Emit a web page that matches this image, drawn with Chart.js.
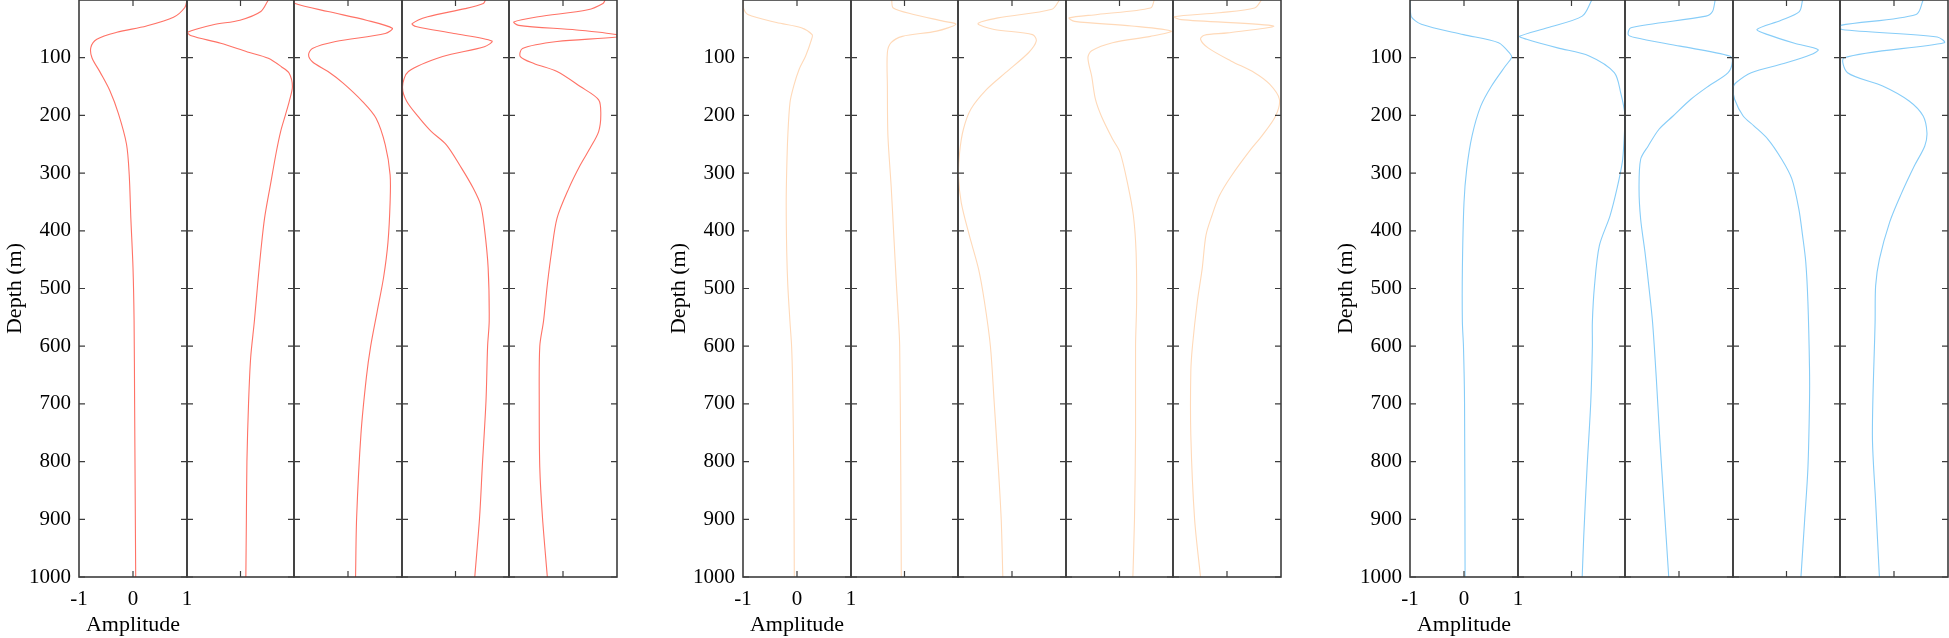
<!DOCTYPE html>
<html lang="en">
<head>
<meta charset="UTF-8">
<title>Mode amplitude profiles</title>
<script src="https://cdn.jsdelivr.net/npm/chart.js"></script>
<style>
  html, body { margin: 0; padding: 0; background: #fff; overflow: hidden; }
  #wrap { position: relative; width: 1949px; height: 638px; }
  #wrap canvas { position: absolute; }
</style>
</head>
<body>
<div id="wrap"></div>
<script>
// [depth (m), amplitude], one list per mode
const redMode1 = [[0,1.0],[13,0.96],[30,0.75],[45,0.25],[56,-0.30],[68,-0.67],[82,-0.78],[100,-0.76],[125,-0.61],[157,-0.43],[197,-0.27],[250,-0.12],[303,-0.07],[378,-0.04],[464,0.0],[556,0.02],[700,0.03],[850,0.04],[1000,0.05]];
const redMode2 = [[0,0.52],[20,0.38],[35,-0.01],[43,-0.51],[56,-0.99],[62,-0.92],[75,-0.37],[90,0.13],[101,0.52],[116,0.77],[127,0.91],[150,0.97],[176,0.91],[199,0.84],[228,0.75],[263,0.67],[320,0.56],[378,0.45],[435,0.38],[493,0.32],[556,0.26],[620,0.19],[700,0.15],[800,0.12],[900,0.11],[1000,0.10]];
const redMode3 = [[0,-1.0],[6,-0.98],[20,-0.37],[35,0.34],[49,0.82],[58,0.69],[72,-0.23],[84,-0.66],[95,-0.73],[107,-0.66],[124,-0.37],[144,-0.09],[176,0.27],[205,0.52],[251,0.69],[303,0.78],[350,0.78],[420,0.74],[480,0.66],[540,0.54],[600,0.42],[654,0.34],[752,0.24],[897,0.16],[1000,0.14]];
const redMode4 = [[0,0.56],[6,0.52],[15,0.18],[29,-0.52],[41,-0.81],[46,-0.74],[58,-0.03],[71,0.68],[81,0.54],[98,-0.24],[124,-0.88],[150,-0.99],[176,-0.91],[205,-0.67],[228,-0.45],[251,-0.17],[291,0.11],[326,0.33],[355,0.47],[395,0.54],[464,0.61],[556,0.63],[600,0.60],[695,0.57],[810,0.50],[897,0.45],[1000,0.36]];
const redMode5 = [[0,0.78],[6,0.74],[17,0.46],[29,-0.46],[38,-0.91],[44,-0.82],[52,0.25],[60,1.0],[64,1.0],[72,-0.11],[84,-0.75],[98,-0.79],[110,-0.54],[124,-0.11],[150,0.32],[173,0.66],[199,0.70],[228,0.66],[257,0.50],[286,0.32],[326,0.11],[378,-0.11],[435,-0.21],[493,-0.29],[556,-0.36],[600,-0.43],[695,-0.44],[810,-0.43],[897,-0.38],[1000,-0.29]];

const peachMode1 = [[0,-1.0],[14,-0.99],[25,-0.91],[39,-0.38],[48,0.08],[60,0.28],[68,0.27],[97,0.16],[120,0.04],[149,-0.06],[178,-0.13],[235,-0.17],[293,-0.19],[351,-0.20],[437,-0.19],[495,-0.17],[558,-0.13],[600,-0.10],[668,-0.08],[812,-0.06],[1000,-0.05]];
const peachMode2 = [[0,-0.24],[14,-0.21],[25,0.17],[37,0.74],[42,0.96],[54,0.60],[63,-0.04],[74,-0.25],[91,-0.32],[149,-0.32],[235,-0.31],[322,-0.25],[408,-0.20],[495,-0.15],[558,-0.11],[600,-0.09],[812,-0.07],[1000,-0.06]];
const peachMode3 = [[0,0.88],[16,0.74],[31,-0.26],[41,-0.63],[51,-0.33],[60,0.38],[71,0.45],[91,0.31],[126,-0.12],[155,-0.47],[189,-0.76],[224,-0.90],[264,-0.97],[305,-0.99],[351,-0.94],[408,-0.79],[466,-0.62],[523,-0.51],[600,-0.40],[697,-0.33],[800,-0.26],[900,-0.20],[1000,-0.17]];
const peachMode4 = [[0,0.65],[14,0.58],[25,-0.41],[31,-0.94],[37,-0.84],[45,0.23],[54,0.97],[63,0.58],[74,-0.13],[88,-0.52],[100,-0.59],[132,-0.52],[172,-0.45],[201,-0.34],[241,-0.13],[264,0.01],[322,0.16],[374,0.26],[437,0.31],[524,0.32],[600,0.30],[754,0.30],[900,0.28],[1000,0.25]];
const peachMode5 = [[0,0.64],[14,0.51],[22,-0.14],[29,-0.98],[34,-0.85],[45,0.86],[57,0.01],[61,-0.42],[68,-0.49],[83,-0.35],[106,0.08],[126,0.51],[146,0.79],[172,0.97],[201,0.90],[235,0.65],[259,0.44],[305,0.08],[339,-0.14],[374,-0.28],[408,-0.39],[466,-0.46],[523,-0.55],[600,-0.64],[644,-0.67],[754,-0.67],[900,-0.60],[1000,-0.49]];

const blueMode1 = [[0,-1.0],[28,-0.98],[42,-0.79],[60,-0.01],[74,0.64],[94,0.86],[100,0.88],[114,0.77],[149,0.51],[184,0.31],[235,0.15],[293,0.05],[351,0.0],[466,-0.03],[558,-0.03],[600,-0.01],[697,0.01],[1000,0.02]];
const blueMode2 = [[0,0.38],[28,0.20],[48,-0.45],[63,-0.97],[68,-0.84],[83,-0.26],[97,0.33],[126,0.80],[161,0.92],[201,1.0],[247,0.98],[281,0.95],[327,0.85],[374,0.72],[426,0.52],[495,0.43],[558,0.39],[600,0.39],[697,0.36],[812,0.29],[927,0.23],[1000,0.20]];
const blueMode3 = [[0,0.67],[20,0.62],[28,0.50],[48,-0.89],[60,-0.94],[65,-0.82],[80,0.02],[97,0.94],[106,0.99],[126,0.91],[149,0.55],[172,0.22],[201,-0.11],[224,-0.37],[253,-0.57],[276,-0.71],[328,-0.74],[380,-0.71],[437,-0.63],[495,-0.56],[558,-0.49],[656,-0.42],[754,-0.36],[870,-0.28],[1000,-0.19]];
const blueMode4 = [[0,0.30],[20,0.24],[35,-0.10],[51,-0.55],[60,-0.35],[75,0.15],[86,0.59],[95,0.45],[110,-0.05],[126,-0.66],[143,-0.94],[152,-1.0],[172,-0.97],[201,-0.81],[218,-0.61],[241,-0.35],[276,-0.09],[310,0.10],[362,0.23],[408,0.30],[454,0.36],[523,0.40],[638,0.43],[697,0.43],[812,0.40],[900,0.34],[1000,0.27]];
const blueMode5 = [[0,0.54],[25,0.41],[44,-0.99],[51,-0.97],[64,0.80],[74,0.93],[100,-0.92],[126,-0.86],[149,-0.21],[175,0.28],[201,0.54],[230,0.61],[253,0.57],[287,0.38],[339,0.12],[385,-0.08],[449,-0.27],[495,-0.34],[558,-0.35],[754,-0.40],[870,-0.34],[1000,-0.27]];

const depthTicks = [100, 200, 300, 400, 500, 600, 700, 800, 900, 1000];
const ampTicks = [-1, 0, 1];

// layout
const colW = 107.6;
const plotH = 577;
const yAxisW = 79;
const xAxisH = 61;
const panels = [
  { left: 79,   color: '#ff7266', modes: [redMode1, redMode2, redMode3, redMode4, redMode5] },
  { left: 743,  color: '#ffd9b8', modes: [peachMode1, peachMode2, peachMode3, peachMode4, peachMode5] },
  { left: 1410, color: '#87cdf8', modes: [blueMode1, blueMode2, blueMode3, blueMode4, blueMode5] }
];

const serif = "'Liberation Serif', 'Times New Roman', serif";

// box round each column, ticks pointing inward
const boxPlugin = {
  id: 'box',
  afterDraw(chart) {
    const { ctx, chartArea: a, scales } = chart;
    ctx.save();
    ctx.strokeStyle = '#3c3c3c';
    ctx.lineWidth = 1.2;
    ctx.beginPath();
    depthTicks.forEach(d => {
      const y = scales.y.getPixelForValue(d);
      ctx.moveTo(a.left, y); ctx.lineTo(a.left + 6, y);
      ctx.moveTo(a.right, y); ctx.lineTo(a.right - 6, y);
    });
    const x0 = scales.x.getPixelForValue(0);
    ctx.moveTo(x0, a.top); ctx.lineTo(x0, a.top + 6);
    ctx.moveTo(x0, a.bottom); ctx.lineTo(x0, a.bottom - 6);
    ctx.stroke();
    ctx.lineWidth = 1.6;
    ctx.strokeRect(a.left, a.top, a.right - a.left, a.bottom - a.top);
    ctx.restore();
  }
};

const wrap = document.getElementById('wrap');

panels.forEach(p => {
  p.modes.forEach((mode, k) => {
    const first = k === 0;
    const x0 = Math.round(p.left + k * colW);
    const x1 = Math.round(p.left + (k + 1) * colW);
    const padR = first ? 22 : 2;
    const cv = document.createElement('canvas');
    cv.width = (x1 - x0) + (first ? yAxisW : 0) + 2 + padR;
    cv.height = first ? 2 + plotH + xAxisH : plotH + 4;
    cv.style.left = (x0 - (first ? yAxisW : 0) - 2) + 'px';
    cv.style.top = '-2px';
    wrap.appendChild(cv);

    new Chart(cv, {
      type: 'scatter',
      data: {
        datasets: [{
          data: mode.map(([depth, amp]) => ({ x: amp, y: depth })),
          showLine: true,
          borderColor: p.color,
          borderWidth: 1.1,
          pointRadius: 0,
          tension: 0.3,
          fill: false
        }]
      },
      options: {
        responsive: false,
        animation: false,
        events: [],
        layout: { padding: { left: 2, right: padR, top: 2, bottom: first ? 0 : 2 } },
        plugins: { legend: { display: false }, tooltip: { enabled: false } },
        scales: {
          x: {
            type: 'linear',
            min: -1, max: 1,
            display: first,
            afterBuildTicks: s => { s.ticks = ampTicks.map(v => ({ value: v })); },
            afterFit: s => { if (first) { s.height = xAxisH; s.paddingLeft = 0; s.paddingRight = 0; } },
            grid: { display: false, drawTicks: false },
            border: { display: false },
            ticks: { color: '#000', padding: 10, maxRotation: 0, autoSkip: false,
                     callback: v => String(v),
                     font: { family: serif, size: 21 } },
            title: { display: true, text: 'Amplitude', color: '#000', padding: 0,
                     font: { family: serif, size: 22 } }
          },
          y: {
            type: 'linear',
            reverse: true,
            min: 0, max: 1000,
            display: first,
            afterBuildTicks: s => { s.ticks = depthTicks.map(v => ({ value: v })); },
            afterFit: s => { if (first) { s.width = yAxisW; s.paddingTop = 0; s.paddingBottom = 0; } },
            grid: { display: false, drawTicks: false },
            border: { display: false },
            ticks: { color: '#000', padding: 8, autoSkip: false,
                     callback: v => String(v),
                     font: { family: serif, size: 21 } },
            title: { display: true, text: 'Depth (m)', color: '#000', padding: 2,
                     font: { family: serif, size: 22 } }
          }
        }
      },
      plugins: [boxPlugin]
    });
  });
});
</script>
</body>
</html>
